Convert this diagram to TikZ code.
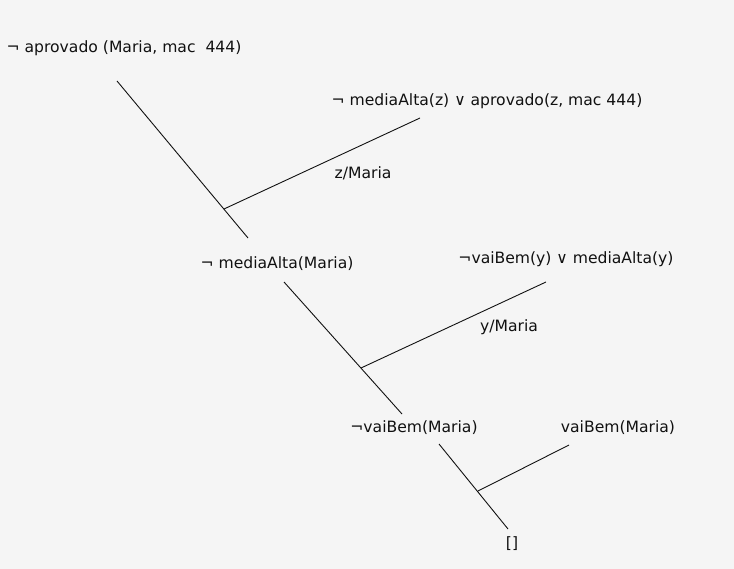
\documentclass[tikz,border=0pt]{standalone}
\usepackage{fontspec}
\setmainfont{DejaVu Sans}
\usepackage{xcolor}
\usepackage{tikz}
\usetikzlibrary{positioning}

\definecolor{fundo}{HTML}{F5F5F5}
\definecolor{tinta}{HTML}{111111}

\tikzset{
	clausula/.style={inner sep=0pt, text=tinta, font=\fontsize{15.6}{18}\selectfont},
	subst/.style={clausula},
	ramo/.style={draw=tinta, line width=0.9pt}
}

\begin{document}
\begin{tikzpicture}[x=1pt,y=-1pt]
	\fill[fundo] (0,0) rectangle (734,569);
	\useasboundingbox (0,0) rectangle (734,569);

	\node[clausula] (c1) at (124,48) {¬ aprovado (Maria, mac~~444)};
	\node[clausula] (c2) at (487,101) {¬ mediaAlta(z) ∨ aprovado(z, mac 444)};
	\node[subst] (s1) at (363,173) {z/Maria};

	\node[clausula] (c3) at (277,264) {¬ mediaAlta(Maria)};
	\node[clausula] (c4) at (566,259) {¬vaiBem(y) ∨ mediaAlta(y)};
	\node[subst] (s2) at (509,327) {y/Maria};

	\node[clausula] (c5) at (414,428) {¬vaiBem(Maria)};
	\node[clausula] (c6) at (618,428) {vaiBem(Maria)};
	\node[clausula] (c7) at (512,544) {[]};

	% pontas dos ramos
	\coordinate (a1) at (117,81);
	\coordinate (b1) at (248,238);
	\coordinate (j1) at (224,209);
	\coordinate (a2) at (420,118);

	\coordinate (a3) at (284,282);
	\coordinate (b3) at (402,414);
	\coordinate (j2) at (361,368);
	\coordinate (a4) at (546,282);

	\coordinate (a5) at (439,444);
	\coordinate (b5) at (508,529);
	\coordinate (j3) at (478,491);
	\coordinate (a6) at (569,445);

	\draw[ramo] (a1) -- (b1);
	\draw[ramo] (a2) -- (j1);

	\draw[ramo] (a3) -- (b3);
	\draw[ramo] (a4) -- (j2);

	\draw[ramo] (a5) -- (b5);
	\draw[ramo] (a6) -- (j3);
\end{tikzpicture}
\end{document}
